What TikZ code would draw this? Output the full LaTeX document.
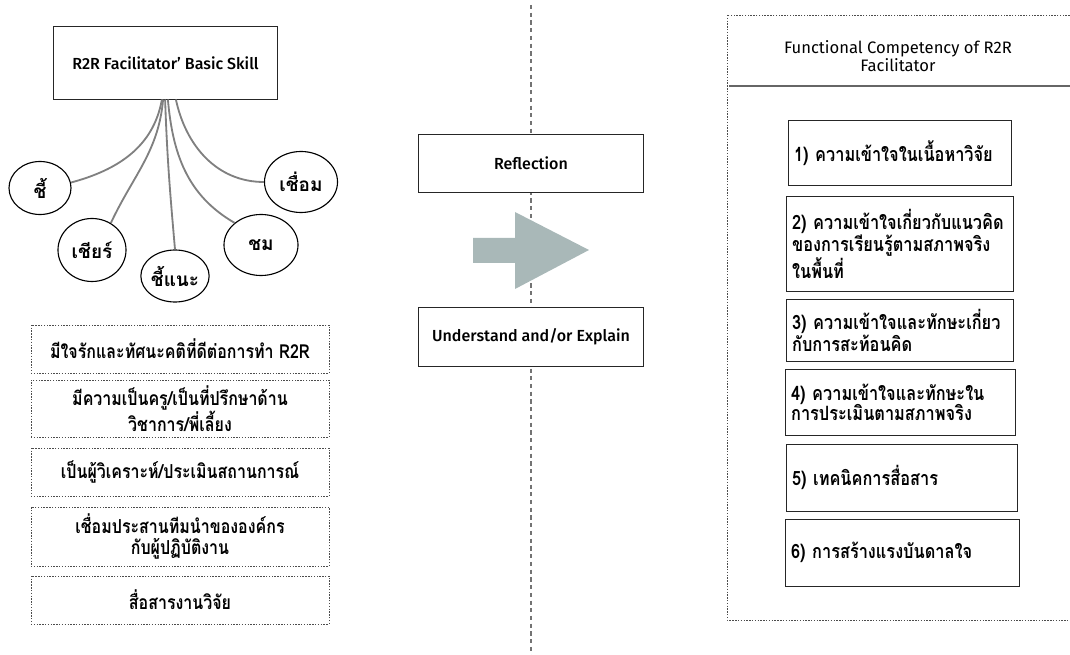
\documentclass[tikz,border=0pt]{standalone}
\usepackage{fontspec}
\setmainfont{Fira Sans}[UprightFont={* Medium}]
\newfontfamily\headfont{Fira Sans}
\newfontfamily\thaifont[Script=Thai]{Loma}
\newfontfamily\thainarrow[Script=Thai, FakeStretch=0.83]{Loma}
\usepackage{tikz}
\usetikzlibrary{shapes.geometric}

\definecolor{arrowgrey}{HTML}{A9B8B8}

\tikzset{
    plainbox/.style={draw=black!85, line width=0.7pt, fill=white, align=center,
          inner sep=2pt, font=\fontsize{11.4}{13}\selectfont},
    skillbox/.style={draw=black!70, line width=0.6pt, dash pattern=on 1pt off 1pt,
          align=center, minimum width=7.45cm, inner sep=2pt,
          font=\thainarrow\bfseries\fontsize{13.7}{15.5}\selectfont},
    bubble/.style={ellipse, draw=black, line width=0.8pt, inner sep=0pt,
          font=\thaifont\bfseries\fontsize{13.5}{15}\selectfont},
    stem/.style={draw=black!50, line width=1.3pt},
    compbox/.style={draw=black!85, line width=0.7pt, anchor=west, align=left,
          inner xsep=4pt, font=\thainarrow\bfseries\fontsize{14}{14.5}\selectfont},
    divider/.style={draw=black!55, line width=1pt, dash pattern=on 3pt off 2.5pt},
    frame/.style={draw=black!70, line width=0.6pt, dash pattern=on 1pt off 1pt}
}

\begin{document}
\begin{tikzpicture}[x=0.025cm, y=0.025cm]
    \useasboundingbox (0,0) rectangle (1070,-655);

    % middle divider
    \coordinate (divtop) at (531,-5);
    \coordinate (divbot) at (531,-655);
    \draw[divider] (divtop) -- (divbot);

    % left: basic skills
    \node[plainbox, minimum width=5.575cm, minimum height=1.8cm] (title) at (165.5,-63)
        {R2R Facilitator' Basic Skill};

    \node[bubble, minimum width=1.55cm, minimum height=1.325cm] (c1) at (40,-188) {ชี้};
    \node[bubble, minimum width=1.7cm, minimum height=1.575cm] (c2) at (92,-250) {เชียร์};
    \node[bubble, minimum width=1.425cm, minimum height=1.3cm] (c3) at (175,-276) {ชี้แนะ};
    \node[bubble, minimum width=1.85cm, minimum height=1.525cm] (c4) at (261,-245) {ชม};
    \node[bubble, minimum width=1.825cm, minimum height=1.525cm] (c5) at (301,-182) {เชื่อม};

    \draw[stem] ([xshift=-0.09cm]title.south) to[out=-100, in=15] (c1.10);
    \draw[stem] ([xshift=-0.06cm]title.south) to[out=-95, in=65] (c2.55);
    \draw[stem] ([xshift=-0.01cm]title.south) to[out=-88, in=95] (c3.north);
    \draw[stem] ([xshift=0.06cm]title.south) to[out=-85, in=150] (c4.140);
    \draw[stem] ([xshift=0.26cm]title.south) to[out=-78, in=180] (c5.west);

    \node[skillbox, minimum height=1.2cm] (s1) at (180,-349)
        {มีใจรักและทัศนะคติที่ดีต่อการทำ R2R};
    \node[skillbox, minimum height=1.425cm] (s2) at (180,-408.5)
        {มีความเป็นครู/เป็นที่ปรึกษาด้าน\\วิชาการ/พี่เลี้ยง};
    \node[skillbox, minimum height=1.2cm] (s3) at (180,-472)
        {เป็นผู้วิเคราะห์/ประเมินสถานการณ์};
    \node[skillbox, minimum height=1.475cm] (s4) at (180,-536.5)
        {เชื่อมประสานทีมนำขององค์กร\\กับผู้ปฏิบัติงาน};
    \node[skillbox, minimum height=1.2cm] (s5) at (180,-600)
        {สื่อสารงานวิจัย};

    % middle
    \node[plainbox, minimum width=5.6cm, minimum height=1.425cm] (reflect) at (531,-163.5)
        {Reflection};
    \node[plainbox, minimum width=5.6cm, minimum height=1.45cm] (explain) at (531,-337)
        {Understand and/or Explain};
    \fill[arrowgrey] (473,-238) -- (515,-238) -- (515,-212) -- (589,-250)
        -- (515,-289) -- (515,-263) -- (473,-263) -- cycle;

    % right: functional competency
    \draw[frame] (727,-15) rectangle (1085,-620);
    \node[align=center, font=\headfont\fontsize{11.8}{13}\selectfont] (heading) at (898,-56)
        {Functional Competency of R2R\\Facilitator};
    \coordinate (ruleL) at (729,-86);
    \coordinate (ruleR) at (1070,-86);
    \draw[black!60, line width=1pt] (ruleL) -- (ruleR);

    \node[compbox, text width=5.295cm, minimum height=1.6cm] (k1) at (788,-153)
        {1) ความเข้าใจในเนื้อหาวิจัย};
    \node[compbox, text width=5.395cm, minimum height=2.35cm] (k2) at (786,-244)
        {2) ความเข้าใจเกี่ยวกับแนวคิด\\ของการเรียนรู้ตามสภาพจริง\\ในพื้นที่};
    \node[compbox, text width=5.395cm, minimum height=1.525cm] (k3) at (786,-330.5)
        {3) ความเข้าใจและทักษะเกี่ยว\\กับการสะท้อนคิด};
    \node[compbox, text width=5.47cm, minimum height=1.625cm] (k4) at (785,-402.5)
        {4) ความเข้าใจและทักษะใน\\การประเมินตามสภาพจริง};
    \node[compbox, text width=5.495cm, minimum height=1.675cm] (k5) at (786,-477.5)
        {5) เทคนิคการสื่อสาร};
    \node[compbox, text width=5.57cm, minimum height=1.675cm] (k6) at (785,-552.5)
        {6) การสร้างแรงบันดาลใจ};
\end{tikzpicture}
\end{document}
